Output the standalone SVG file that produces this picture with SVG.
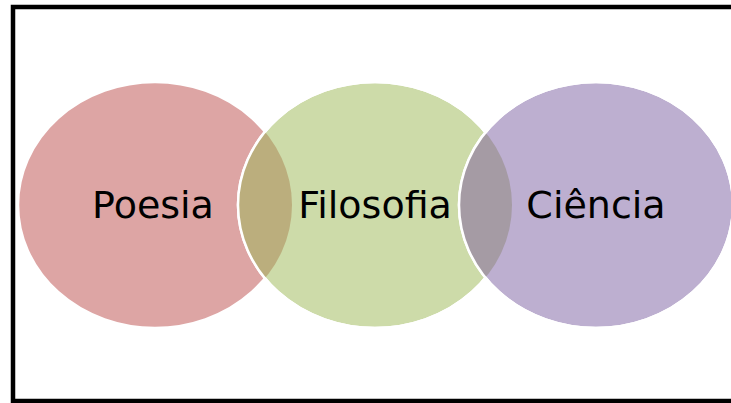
<svg xmlns="http://www.w3.org/2000/svg" width="731" height="403" viewBox="0 0 731 403">
<style>
.lbl{font-family:"DejaVu Sans",sans-serif;font-size:38px;fill:#000;text-anchor:middle}
.edge{fill:none;stroke:#fff;stroke-width:2.5}
</style>
<defs>
<ellipse id="eR" cx="155" cy="205" rx="137" ry="123"/>
<ellipse id="eG" cx="375" cy="205" rx="137" ry="123"/>
<ellipse id="eP" cx="596" cy="205" rx="137" ry="123"/>
<clipPath id="cR"><use href="#eR"/></clipPath>
<clipPath id="cG"><use href="#eG"/></clipPath>
</defs>
<rect width="731" height="403" fill="#fff"/>
<rect x="13" y="7" width="722" height="394" fill="none" stroke="#000" stroke-width="4.5"/>
<g id="poesia">
<use href="#eR" fill="#DDA5A4" stroke="#fff" stroke-width="2.5"/>
</g>
<g id="filosofia">
<use href="#eG" fill="#CDDBA9" stroke="#fff" stroke-width="2.5"/>
<use href="#eG" fill="#BBAE7D" clip-path="url(#cR)"/>
<use href="#eG" class="edge"/>
</g>
<g id="ciencia">
<use href="#eP" fill="#BDAFD0" stroke="#fff" stroke-width="2.5"/>
<use href="#eP" fill="#A59BA4" clip-path="url(#cG)"/>
<use href="#eP" class="edge"/>
</g>
<g id="labels">
<text class="lbl" x="153" y="218">Poesia</text>
<text class="lbl" x="375" y="218">Filosofia</text>
<text class="lbl" x="596" y="218">Ciência</text>
</g>
</svg>
